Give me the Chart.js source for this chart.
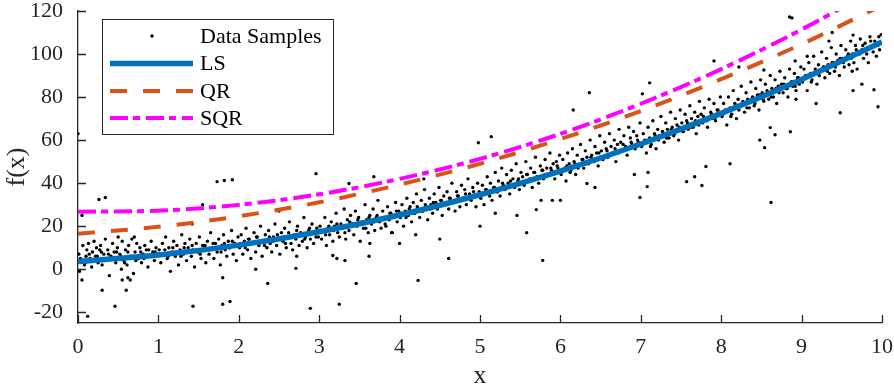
<!DOCTYPE html>
<html>
<head>
<meta charset="utf-8">
<script src="https://cdn.jsdelivr.net/npm/chart.js@4.4.1/dist/chart.umd.min.js"></script>
<style>
  html, body { margin: 0; padding: 0; background: #fff; }
</style>
</head>
<body>
<canvas id="chart" width="894" height="389"></canvas>
<script>
// noisy samples [x, f(x)]
const samples = [
  [0.01,7],[0.02,-1],[0.04,4],[0.06,11],[0.08,2],[0.1,6],[0.11,9],[0.13,12],[0.15,5],[0.17,1],[0.18,8],[0.2,13],[0.22,6],[0.23,10],[0.25,3],[0.27,9],[0.28,11],[0.3,2],[0.32,7],[0.34,14],[0.36,5],[0.37,9],[0.39,-3],[0.41,6],[0.43,12],[0.45,8],[0.47,3],[0.49,10],[0.5,15],[0.52,7],[0.54,0],[0.55,13],[0.57,4],[0.59,9],[0.61,2],[0.63,11],[0.65,6],[0.67,14],[0.69,-2],[0.71,8],[0.73,12],[0.75,5],[0.77,10],[0.79,3],[0.81,7],[0.83,11],[0.85,9],[0.87,1],[0.89,6],[0.91,13],[0.93,8],[0.95,4],[0.97,10],[0.99,7],
  [1.01,9],[1.03,3],[1.05,12],[1.07,7],[1.09,15],[1.11,5],[1.13,10],[1.15,-1],[1.17,8],[1.19,13],[1.21,6],[1.23,11],[1.25,2],[1.27,9],[1.29,16],[1.31,7],[1.33,12],[1.35,4],[1.37,10],[1.39,14],[1.41,6],[1.43,9],[1.45,1],[1.47,12],[1.49,8],[1.51,15],[1.53,5],[1.55,11],[1.57,9],[1.59,3],[1.61,13],[1.63,7],[1.65,17],[1.67,10],[1.69,5],[1.71,12],[1.73,8],[1.75,14],[1.77,2],[1.79,11],[1.81,16],[1.83,9],[1.85,6],[1.87,13],[1.89,10],[1.91,18],[1.93,7],[1.95,12],[1.97,4],[1.99,15],
  [2.01,10],[2.03,16],[2.05,7],[2.07,13],[2.09,19],[2.11,9],[2.13,14],[2.15,5],[2.17,12],[2.19,17],[2.21,8],[2.23,15],[2.25,11],[2.27,20],[2.29,6],[2.31,13],[2.33,16],[2.35,10],[2.37,18],[2.39,12],[2.41,8],[2.43,15],[2.45,21],[2.47,11],[2.49,14],[2.51,7],[2.53,17],[2.55,13],[2.57,19],[2.59,10],[2.61,15],[2.63,22],[2.65,12],[2.67,9],[2.69,16],[2.71,14],[2.73,20],[2.75,11],[2.77,17],[2.79,13],[2.81,24],[2.83,15],[2.85,10],[2.87,18],[2.89,14],[2.91,21],[2.93,12],[2.95,17],[2.97,19],[2.99,15],
  [3.01,20],[3.03,14],[3.05,18],[3.07,24],[3.09,11],[3.11,19],[3.13,16],[3.15,22],[3.17,13],[3.19,20],[3.21,26],[3.23,17],[3.25,15],[3.27,21],[3.29,19],[3.31,28],[3.33,14],[3.35,23],[3.37,18],[3.39,25],[3.41,21],[3.43,16],[3.45,27],[3.47,20],[3.49,24],[3.51,13],[3.53,22],[3.55,19],[3.57,30],[3.59,23],[3.61,17],[3.63,25],[3.65,21],[3.67,28],[3.69,18],[3.71,24],[3.73,32],[3.75,22],[3.77,19],[3.79,27],[3.81,24],[3.83,20],[3.85,29],[3.87,23],[3.89,26],[3.91,17],[3.93,25],[3.95,31],[3.97,22],[3.99,27],
  [4.01,24],[4.03,30],[4.05,20],[4.07,27],[4.09,33],[4.11,25],[4.13,29],[4.15,22],[4.17,31],[4.19,26],[4.21,35],[4.23,28],[4.25,24],[4.27,32],[4.29,27],[4.31,37],[4.33,29],[4.35,23],[4.37,33],[4.39,30],[4.41,26],[4.43,35],[4.45,31],[4.47,28],[4.49,38],[4.51,32],[4.53,25],[4.55,34],[4.57,30],[4.59,36],[4.61,28],[4.63,33],[4.65,40],[4.67,31],[4.69,27],[4.71,36],[4.73,34],[4.75,29],[4.77,39],[4.79,33],[4.81,37],[4.83,30],[4.85,42],[4.87,35],[4.89,32],[4.91,38],[4.93,34],[4.95,29],[4.97,40],[4.99,36],
  [5.01,33],[5.03,39],[5.05,30],[5.07,37],[5.09,43],[5.11,35],[5.13,40],[5.15,32],[5.17,38],[5.19,45],[5.21,36],[5.23,41],[5.25,34],[5.27,47],[5.29,39],[5.31,37],[5.33,44],[5.35,40],[5.37,35],[5.39,46],[5.41,42],[5.43,38],[5.45,49],[5.47,41],[5.49,37],[5.51,45],[5.53,43],[5.55,39],[5.57,50],[5.59,44],[5.61,41],[5.63,47],[5.65,38],[5.67,45],[5.69,52],[5.71,43],[5.73,40],[5.75,48],[5.77,46],[5.79,42],[5.81,51],[5.83,47],[5.85,44],[5.87,54],[5.89,46],[5.91,49],[5.93,42],[5.95,50],[5.97,47],[5.99,53],
  [6.01,44],[6.03,51],[6.05,47],[6.07,41],[6.09,54],[6.11,49],[6.13,46],[6.15,56],[6.17,50],[6.19,44],[6.21,53],[6.23,48],[6.25,58],[6.27,51],[6.29,47],[6.31,55],[6.33,52],[6.35,49],[6.37,60],[6.39,53],[6.41,50],[6.43,57],[6.45,54],[6.47,48],[6.49,62],[6.51,55],[6.53,51],[6.55,59],[6.57,56],[6.59,52],[6.61,63],[6.63,57],[6.65,54],[6.67,60],[6.69,50],[6.71,58],[6.73,65],[6.75,59],[6.77,55],[6.79,62],[6.81,57],[6.83,53],[6.85,66],[6.87,61],[6.89,58],[6.91,64],[6.93,56],[6.95,62],[6.97,59],[6.99,68],
  [7.01,57],[7.03,63],[7.05,60],[7.07,54],[7.09,66],[7.11,61],[7.13,58],[7.15,69],[7.17,63],[7.19,56],[7.21,65],[7.23,62],[7.25,71],[7.27,64],[7.29,59],[7.31,68],[7.33,65],[7.35,61],[7.37,73],[7.39,66],[7.41,62],[7.43,70],[7.45,67],[7.47,60],[7.49,74],[7.51,68],[7.53,64],[7.55,72],[7.57,69],[7.59,65],[7.61,76],[7.63,70],[7.65,66],[7.67,73],[7.69,63],[7.71,71],[7.73,78],[7.75,72],[7.77,68],[7.79,75],[7.81,70],[7.83,66],[7.85,79],[7.87,73],[7.89,70],[7.91,77],[7.93,69],[7.95,74],[7.97,72],[7.99,80],
  [8.01,71],[8.03,77],[8.05,74],[8.07,67],[8.09,80],[8.11,75],[8.13,72],[8.15,83],[8.17,77],[8.19,70],[8.21,79],[8.23,76],[8.25,85],[8.27,78],[8.29,73],[8.31,82],[8.33,79],[8.35,75],[8.37,87],[8.39,80],[8.41,76],[8.43,84],[8.45,81],[8.47,74],[8.49,88],[8.51,82],[8.53,78],[8.55,86],[8.57,83],[8.59,79],[8.61,90],[8.63,84],[8.65,80],[8.67,88],[8.69,77],[8.71,85],[8.73,92],[8.75,86],[8.77,82],[8.79,89],[8.81,84],[8.83,80],[8.85,93],[8.87,87],[8.89,85],[8.91,91],[8.93,83],[8.95,89],[8.97,86],[8.99,94],
  [9.01,87],[9.03,93],[9.05,90],[9.07,83],[9.09,96],[9.11,91],[9.13,88],[9.15,99],[9.17,93],[9.19,86],[9.21,95],[9.23,92],[9.25,101],[9.27,94],[9.29,89],[9.31,98],[9.33,95],[9.35,91],[9.37,103],[9.39,96],[9.41,92],[9.43,100],[9.45,97],[9.47,90],[9.49,104],[9.51,98],[9.53,94],[9.55,102],[9.57,99],[9.59,95],[9.61,106],[9.63,100],[9.65,96],[9.67,104],[9.69,93],[9.71,101],[9.73,107],[9.75,102],[9.77,98],[9.79,105],[9.81,100],[9.83,96],[9.85,108],[9.87,103],[9.89,101],[9.91,106],[9.93,99],[9.95,104],[9.97,102],[9.99,109],
  // the dark core of the cloud, close to the LS curve
  [0.03,5],[0.09,3],[0.14,7],[0.19,4],[0.24,6],[0.29,8],[0.33,4],[0.38,7],[0.42,5],[0.48,8],[0.53,6],[0.58,3],[0.62,8],[0.68,6],[0.72,4],[0.78,8],[0.82,5],[0.88,9],[0.92,6],[0.96,8],
  [1.02,7],[1.08,9],[1.12,6],[1.18,10],[1.22,8],[1.28,6],[1.32,10],[1.38,8],[1.42,11],[1.48,9],[1.52,7],[1.58,11],[1.62,9],[1.68,12],[1.72,10],[1.78,8],[1.82,12],[1.88,10],[1.92,13],[1.96,11],
  [2.02,12],[2.08,10],[2.12,14],[2.18,12],[2.22,15],[2.28,13],[2.32,11],[2.38,15],[2.42,13],[2.48,16],[2.52,14],[2.58,12],[2.62,17],[2.68,15],[2.72,18],[2.78,16],[2.82,14],[2.88,19],[2.92,17],[2.96,15],
  [3.02,18],[3.08,16],[3.12,20],[3.18,18],[3.22,21],[3.28,19],[3.32,17],[3.38,22],[3.42,20],[3.48,23],[3.52,21],[3.58,19],[3.62,24],[3.68,22],[3.72,25],[3.78,23],[3.82,21],[3.88,26],[3.92,24],[3.96,27],
  [4.02,26],[4.08,24],[4.12,28],[4.18,26],[4.22,29],[4.28,27],[4.32,30],[4.38,28],[4.42,31],[4.48,29],[4.52,32],[4.58,30],[4.62,33],[4.68,31],[4.72,34],[4.78,32],[4.82,35],[4.88,33],[4.92,36],[4.96,34],
  [5.02,35],[5.08,37],[5.12,34],[5.18,38],[5.22,36],[5.28,40],[5.32,38],[5.38,41],[5.42,39],[5.48,42],[5.52,40],[5.58,44],[5.62,42],[5.68,45],[5.72,43],[5.78,46],[5.82,44],[5.88,47],[5.92,45],[5.96,48],
  [6.02,46],[6.08,48],[6.12,45],[6.18,49],[6.22,47],[6.28,51],[6.32,49],[6.38,52],[6.42,50],[6.48,54],[6.52,52],[6.58,55],[6.62,53],[6.68,56],[6.72,54],[6.78,58],[6.82,56],[6.88,59],[6.92,57],[6.96,60],
  [7.02,58],[7.08,60],[7.12,57],[7.18,62],[7.22,60],[7.28,63],[7.32,61],[7.38,65],[7.42,63],[7.48,66],[7.52,64],[7.58,68],[7.62,66],[7.68,69],[7.72,67],[7.78,71],[7.82,69],[7.88,72],[7.92,70],[7.96,74],
  [8.02,72],[8.08,74],[8.12,71],[8.18,76],[8.22,74],[8.28,77],[8.32,75],[8.38,79],[8.42,77],[8.48,81],[8.52,79],[8.58,82],[8.62,80],[8.68,84],[8.72,82],[8.78,86],[8.82,84],[8.88,87],[8.92,85],[8.96,89],
  [9.02,88],[9.08,90],[9.12,87],[9.18,92],[9.22,90],[9.28,94],[9.32,92],[9.38,96],[9.42,94],[9.48,98],[9.52,96],[9.58,100],[9.62,98],[9.68,102],[9.72,100],[9.76,104],[9.82,102],[9.86,106],[9.92,104],[9.96,108],
  // stray points away from the band
  [0.0,63],[0.26,32.4],[0.34,33.3],[0.05,25],[1.73,40.7],[1.82,41.2],[1.92,41.6],[1.55,30],[0.12,-21.9],[0.3,-9.8],[0.46,-17.2],[0.6,-9.8],[1.43,-17.2],[1.8,-16.3],[1.89,-15],[1.8,-4],[2.21,0],[2.36,-6.6],[0.05,-5],[0.55,-5],[0.62,-4],[0.65,-5],
  [2.89,-18.2],[3.25,-16.3],[3.46,-6.6],[4.23,-5.2],[4.61,5],[5.78,4.1],[5.58,17],[2.71,0.4],[2.72,6],[3.17,6.4],[3.22,5],[3.32,4],[3.62,6],[3.63,12],[2.96,44.4],[3.37,39.8],[3.68,43],[4.98,58.8],[5.14,61.6],[6.16,74],[6.36,82],
  [8.85,117.2],[8.88,116.8],[7.91,96.8],[7.11,86.6],[9.38,110],[9.34,106],[9.64,108.8],[6.99,33.3],[7.08,38.4],[7.57,40.7],[7.76,38.9],[7.67,43],[7.81,47.7],[8.11,49],[8.54,56.5],[8.48,60],[8.61,65.8],[8.67,62.5],[8.86,63.9],
  [9.48,72.7],[9.64,83],[9.75,86],[9.9,83.4],[9.95,75.5],[6.33,39.8],[6.43,38],[8.62,31],[5.46,25],[5.7,27.7],[5.9,32],[6.0,32],[5.76,32],[5.19,26],[6.92,44],[7.09,45],[7.02,81.5],[8.22,94],[9.07,99],[8.53,92.6],[8.92,96.8],[9.18,77],[8.93,79],[9.63,92],
  [1.42,21],[0.7,15],[2.5,27],[4.3,42],[4.0,12],[4.5,14],[3.9,17],[5.0,20],[4.2,16]
];

// fitted curves, read at whole x values
const fitX = [0, 1, 2, 3, 4, 5, 6, 7, 8, 9, 10];
const lsY = [3.6, 6.6, 11.2, 17.4, 25.2, 34.6, 45.6, 58.2, 72.4, 88.2, 105.6];
const qrY = [16.5, 19.7, 24.6, 31.1, 39.3, 49.0, 60.5, 73.5, 88.3, 104.6, 122.6];
const sqrY = [26.7, 27.2, 29.9, 34.8, 42.0, 51.3, 62.9, 76.9, 93.0, 111.4, 132.0];

const xTicks = [0, 1, 2, 3, 4, 5, 6, 7, 8, 9, 10];
const yTicks = [-20, 0, 20, 40, 60, 80, 100, 120];
const seriesNames = ['Data Samples', 'LS', 'QR', 'SQR'];

const axisColor = '#262626';
const serif = 'Liberation Serif, Times New Roman, serif';

function curve(ys) {
  return fitX.map((x, i) => ({ x: x, y: ys[i] }));
}

// keep the plot box where the picture has it, labels may overhang
function noOverhang(s) {
  s.paddingLeft = 0;
  s.paddingRight = 0;
  s.paddingTop = 0;
  s.paddingBottom = 0;
}

// MATLAB style: ticks point into the plot, boxed legend in the upper left
const matlabLook = {
  id: 'matlabLook',
  afterDraw(chart) {
    const ctx = chart.ctx;
    const area = chart.chartArea;
    const xs = chart.scales.x;
    const ys = chart.scales.y;

    ctx.save();
    ctx.strokeStyle = axisColor;
    ctx.lineWidth = 1.3;
    ctx.beginPath();
    xTicks.forEach(v => {
      const px = Math.round(xs.getPixelForValue(v)) + 0.5;
      ctx.moveTo(px, area.bottom);
      ctx.lineTo(px, area.bottom - 8);
    });
    yTicks.forEach(v => {
      const py = Math.round(ys.getPixelForValue(v)) + 0.5;
      ctx.moveTo(area.left, py);
      ctx.lineTo(area.left + 8, py);
    });
    ctx.stroke();

    // legend
    const box = { left: 102.5, top: 19.5, width: 231, height: 115 };
    ctx.fillStyle = '#fff';
    ctx.fillRect(box.left, box.top, box.width, box.height);
    ctx.lineWidth = 1;
    ctx.strokeRect(box.left, box.top, box.width, box.height);

    const rows = [36, 63.5, 91, 118];
    const sets = chart.data.datasets;
    ctx.font = '22px ' + serif;
    ctx.textBaseline = 'middle';
    ctx.textAlign = 'left';
    rows.forEach((ry, i) => {
      const ds = sets[i];
      if (i === 0) {
        ctx.fillStyle = '#000';
        ctx.beginPath();
        ctx.arc(152, ry, 1.7, 0, Math.PI * 2);
        ctx.fill();
      } else {
        ctx.strokeStyle = ds.borderColor;
        ctx.lineWidth = ds.borderWidth;
        ctx.setLineDash(ds.borderDash || []);
        ctx.beginPath();
        ctx.moveTo(110, ry);
        ctx.lineTo(193, ry);
        ctx.stroke();
        ctx.setLineDash([]);
      }
      ctx.fillStyle = '#000';
      ctx.fillText(seriesNames[i], 200, ry + 1);
    });
    ctx.restore();
  }
};

new Chart(document.getElementById('chart'), {
  type: 'scatter',
  data: {
    datasets: [
      {
        label: seriesNames[0],
        data: samples.map(p => ({ x: p[0], y: p[1] })),
        pointRadius: 1.7,
        pointBackgroundColor: '#000',
        pointBorderWidth: 0,
        showLine: false,
        order: 10
      },
      {
        type: 'line',
        label: seriesNames[1],
        data: curve(lsY),
        borderColor: '#0072BD',
        borderWidth: 5.5,
        pointRadius: 0,
        cubicInterpolationMode: 'monotone',
        fill: false,
        order: 3
      },
      {
        type: 'line',
        label: seriesNames[2],
        data: curve(qrY),
        borderColor: '#D95319',
        borderWidth: 4,
        borderDash: [17, 16],
        pointRadius: 0,
        cubicInterpolationMode: 'monotone',
        fill: false,
        order: 2
      },
      {
        type: 'line',
        label: seriesNames[3],
        data: curve(sqrY),
        borderColor: '#FF00FF',
        borderWidth: 4,
        borderDash: [18, 5, 7, 6],
        pointRadius: 0,
        cubicInterpolationMode: 'monotone',
        fill: false,
        order: 1
      }
    ]
  },
  options: {
    responsive: false,
    animation: false,
    events: [],
    layout: { padding: { left: 0, right: 12, top: 11, bottom: 0 } },
    plugins: {
      legend: { display: false },
      tooltip: { enabled: false }
    },
    scales: {
      x: {
        type: 'linear',
        min: 0,
        max: 10,
        afterBuildTicks: s => { s.ticks = xTicks.map(v => ({ value: v })); },
        afterFit: s => { s.height = 66; noOverhang(s); },
        grid: { display: false },
        border: { display: true, color: axisColor, width: 1.3 },
        ticks: {
          color: axisColor,
          padding: 5,
          maxRotation: 0,
          font: { family: serif, size: 22, lineHeight: 1 }
        },
        title: {
          display: true,
          text: 'x',
          color: axisColor,
          padding: 0,
          font: { family: serif, size: 26, lineHeight: 1 }
        }
      },
      y: {
        type: 'linear',
        min: -25,
        max: 120,
        afterBuildTicks: s => { s.ticks = yTicks.map(v => ({ value: v })); },
        afterFit: s => { s.width = 78; noOverhang(s); },
        grid: { display: false },
        border: { display: true, color: axisColor, width: 1.3 },
        ticks: {
          color: axisColor,
          padding: 7,
          font: { family: serif, size: 22, lineHeight: 1 }
        },
        title: {
          display: true,
          text: 'f(x)',
          color: axisColor,
          padding: { top: 4, bottom: 0 },
          font: { family: serif, size: 26, lineHeight: 1 }
        }
      }
    }
  },
  plugins: [matlabLook]
});
</script>
</body>
</html>
